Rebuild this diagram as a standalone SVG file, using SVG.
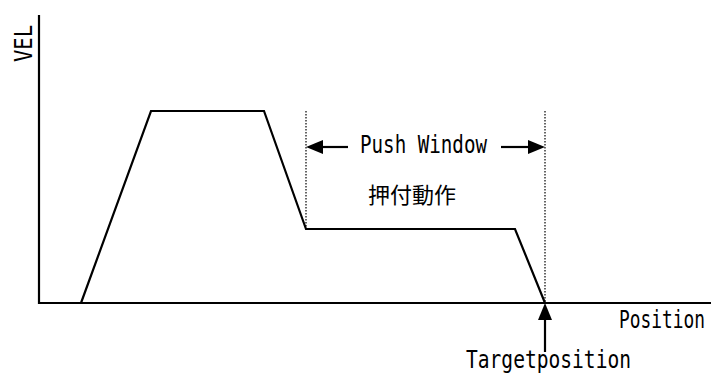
<svg xmlns="http://www.w3.org/2000/svg" width="718" height="373" viewBox="0 0 718 373">
<style>
.ln{fill:none;stroke:#000;stroke-width:2.2;stroke-linejoin:miter}
.dot{fill:none;stroke:#000;stroke-width:1.2;stroke-dasharray:1.5 1.5}
.t{font-family:"DejaVu Sans Mono","Noto Sans CJK JP",monospace;font-size:24px;fill:#000}
.j{font-family:"Noto Sans CJK JP",sans-serif;font-size:22px;fill:#000}
</style>
<rect width="718" height="373" fill="#fff"/>
<g id="axes">
<path class="ln" d="M39 15 V303 H711"/>
<text class="t" transform="translate(32 62) rotate(-90)" textLength="37" lengthAdjust="spacingAndGlyphs">VEL</text>
<text class="t" x="619" y="328" textLength="86" lengthAdjust="spacingAndGlyphs">Position</text>
</g>
<g id="profile">
<path class="ln" d="M81 303 L151 111 L264 111 L306 229 L515 229 L545 303"/>
</g>
<g id="connectors">
<path class="dot" d="M306 111 V229"/>
<path class="dot" d="M545 111 V303"/>
<path class="ln" d="M320 147 H348"/>
<polygon points="306,147 323,140 323,154" fill="#000"/>
<path class="ln" d="M501 147 H530"/>
<polygon points="545,147 528,140 528,154" fill="#000"/>
<path class="ln" d="M545 352 V316"/>
<polygon points="545,303 538,320 552,320" fill="#000"/>
</g>
<g id="labels">
<text class="t" x="360" y="153" textLength="127" lengthAdjust="spacingAndGlyphs">Push Window</text>
<text class="j" x="368" y="203">押付動作</text>
<text class="t" x="466" y="368" textLength="165" lengthAdjust="spacingAndGlyphs">Targetposition</text>
</g>
</svg>
